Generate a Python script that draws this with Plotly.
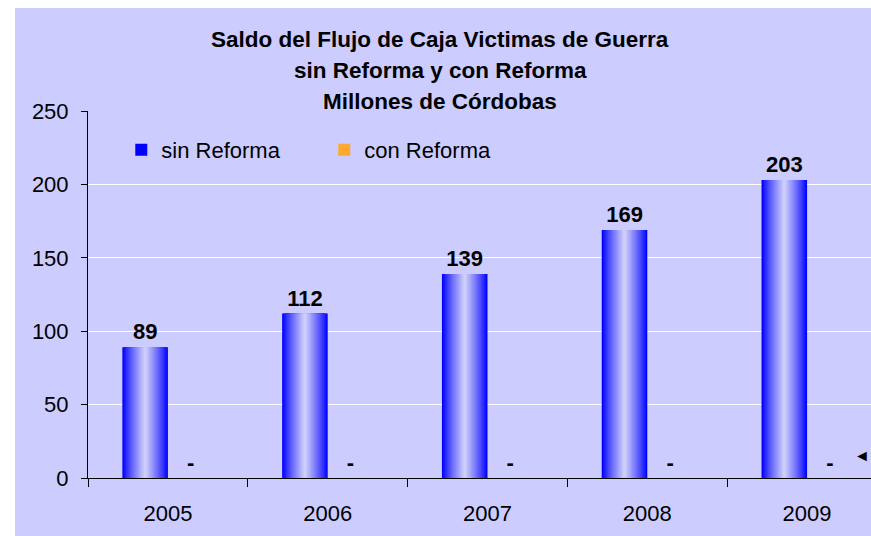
import plotly.graph_objects as go

years = ["2005", "2006", "2007", "2008", "2009"]
sin_reforma = [89, 112, 139, 169, 203]
con_reforma = [0, 0, 0, 0, 0]
sin_labels = ["89", "112", "139", "169", "203"]
con_labels = ["-", "-", "-", "-", "-"]
title_lines = ["Saldo del Flujo de Caja Victimas de Guerra",
               "sin Reforma y con Reforma",
               "Millones de Córdobas"]

BG = "#CCCCFF"
FONT = "Liberation Sans, Arial, sans-serif"
BW = 0.285  # bar width in category units

def mix(c1, c2, t):
    return "rgb(%d,%d,%d)" % tuple(round(a + (b - a) * t) for a, b in zip(c1, c2))

fig = go.Figure()

N = 18
blue = (0, 0, 255)
light = (206, 206, 250)
for k in range(N):
    t = k / (N - 1)
    w = BW * (1 - k / N)
    fig.add_trace(go.Bar(
        x=years, y=sin_reforma, width=w, offset=-BW / 2 - w / 2,
        marker=dict(color=mix(blue, light, t ** 0.85), line=dict(width=0)),
        name="sin Reforma", showlegend=(k == 0), legendrank=1,
        text=sin_labels if k == 0 else None,
        textposition="outside" if k == 0 else "none",
        textfont=dict(family=FONT, size=22, color="black", weight="bold"),
        cliponaxis=False, hoverinfo="skip" if k else None,
    ))

fig.add_trace(go.Bar(
    x=years, y=con_reforma, width=BW, offset=0,
    marker=dict(color="#FFA830", line=dict(width=0)),
    name="con Reforma", legendrank=2,
    text=con_labels, textposition="outside",
    textfont=dict(family=FONT, size=22, color="black", weight="bold"),
    cliponaxis=False,
))

ys = [1.1935, 1.109, 1.027]
for line, yy in zip(title_lines, ys):
    fig.add_annotation(text="<b>%s</b>" % line, x=0.4496, y=yy, xref="paper", yref="paper",
                       showarrow=False, font=dict(family=FONT, size=22.5, color="black"),
                       xanchor="center", yanchor="middle")

fig.add_annotation(text="◄", x=1.0, y=0.06, xref="paper", yref="paper", showarrow=False,
                   xanchor="right", yanchor="middle", borderpad=0,
                   font=dict(size=16, color="black"))

fig.add_shape(type="rect", xref="paper", yref="paper", x0=-0.0932, x1=1.05, y0=-0.2, y1=1.2807,
              fillcolor=BG, line=dict(width=0), layer="below")

fig.update_layout(
    width=871, height=536,
    margin=dict(l=88, r=0, t=111, b=58),
    paper_bgcolor="white", plot_bgcolor="rgba(0,0,0,0)",
    barmode="overlay",
    font=dict(family=FONT, size=22, color="black"),
    showlegend=True,
    legend=dict(orientation="h", x=0.0425, y=0.894, xanchor="left", yanchor="middle",
                bgcolor="rgba(0,0,0,0)", font=dict(size=22, family=FONT),
                entrywidth=158, traceorder="normal"),
    xaxis=dict(range=[-0.5, 4.4], type="category", showgrid=False,
               showline=True, linecolor="black", linewidth=1,
               ticks="outside", tickson="boundaries", ticklen=8, tickcolor="black",
               tickfont=dict(size=22, family=FONT), ticklabelstandoff=16),
    yaxis=dict(range=[0, 250], dtick=50, showgrid=True, gridcolor="white", gridwidth=1,
               showline=True, linecolor="black", linewidth=1, zeroline=False,
               ticks="outside", ticklen=6, tickcolor="black",
               tickfont=dict(size=22, family=FONT), ticklabelstandoff=8),
)

fig.write_html("out.html", config={"displayModeBar": False},
               post_script="document.body.style.margin='0';"
                           "document.documentElement.style.overflow='hidden';"
                           "document.body.style.overflow='hidden';")
